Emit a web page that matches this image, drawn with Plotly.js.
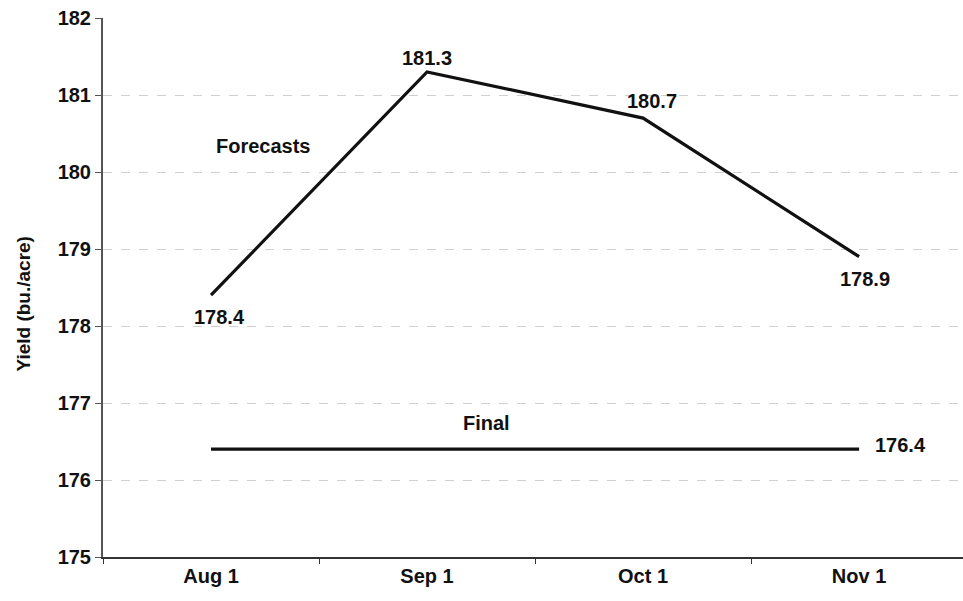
<!DOCTYPE html>
<html><head><meta charset="utf-8">
<script src="https://cdn.plot.ly/plotly-3.0.1.min.js"></script>
<style>html,body{margin:0;padding:0;background:#fff}#c{width:963px;height:601px}</style>
</head><body><div id="c"></div>
<script>
const dates = ["Aug 1", "Sep 1", "Oct 1", "Nov 1"];
const forecasts = [178.4, 181.3, 180.7, 178.9];
const finalYield = [176.4, 176.4, 176.4, 176.4];
const yTicks = [175, 176, 177, 178, 179, 180, 181, 182];

const FAM = "Liberation Sans, Arial, sans-serif";
const font = {family: FAM, size: 20, color: "#111"};

const traces = [
  {x: dates, y: forecasts, type: "scatter", mode: "lines", line: {color: "#111", width: 3.2}, hoverinfo: "skip"},
  {x: dates, y: finalYield, type: "scatter", mode: "lines", line: {color: "#111", width: 3.2}, hoverinfo: "skip"}
];

// [xshift, ydown] offsets of each value label from its point
const offsets = [[8, 22], [0, -14], [9, -17], [6, 22]];
const annotations = forecasts.map((v, i) => ({
  x: dates[i], y: v, text: "<b>" + v.toFixed(1) + "</b>", showarrow: false,
  xshift: offsets[i][0], yshift: -offsets[i][1], font: font
}));
annotations.push({x: dates[3], y: finalYield[3], text: "<b>" + finalYield[3].toFixed(1) + "</b>",
  showarrow: false, xanchor: "left", xshift: 14, yshift: 4, font: font});
annotations.push({x: 0.245, y: 180.34, text: "<b>Forecasts</b>", showarrow: false, font: font});
annotations.push({x: 1.273, y: 176.74, text: "<b>Final</b>", showarrow: false, font: font});
annotations.push({xref: "paper", yref: "paper", x: -0.092, y: 0.47, xanchor: "center", yanchor: "middle",
  text: "<b>Yield (bu./acre)</b>", textangle: -90, showarrow: false,
  font: {family: FAM, size: 19, color: "#111"}});

const layout = {
  width: 963, height: 601,
  margin: {l: 103, r: 0, t: 18, b: 44},
  paper_bgcolor: "#fff", plot_bgcolor: "#fff",
  showlegend: false,
  font: font,
  xaxis: {
    type: "category", range: [-0.5, 3.481],
    showgrid: false, zeroline: false,
    showline: true, linecolor: "#333", linewidth: 1.5,
    ticks: "outside", ticklen: 5, tickcolor: "#333", tickson: "boundaries",
    tickprefix: "<b>", ticksuffix: "</b>",
    tickfont: {family: FAM, size: 20, color: "#111"}
  },
  yaxis: {
    range: [175, 182], tickvals: yTicks, ticktext: yTicks.map(v => "<b>" + v + "</b>"),
    showgrid: true, gridcolor: "#d0d0d0", gridwidth: 1, griddash: "dash",
    zeroline: false, showline: true, linecolor: "#555", linewidth: 2,
    ticks: "outside", ticklen: 6, tickcolor: "#555",
    tickfont: {family: FAM, size: 20, color: "#111"}
  },
  annotations: annotations
};

Plotly.newPlot("c", traces, layout, {staticPlot: true, displayModeBar: false});
</script></body></html>
